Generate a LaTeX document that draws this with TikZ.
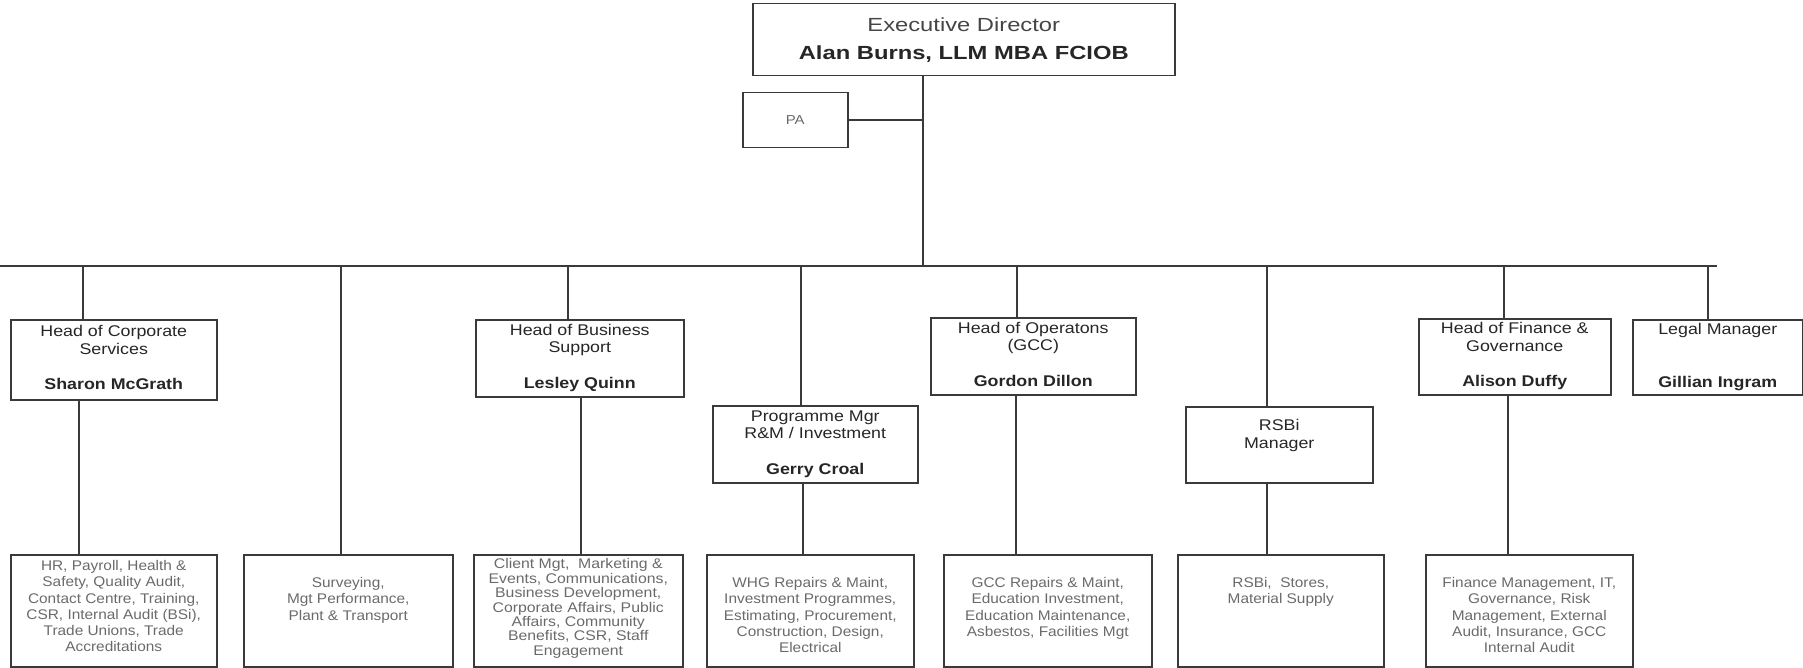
\documentclass[tikz,border=0pt]{standalone}
\usepackage{fontspec}
\setmainfont{Liberation Sans}
\usepackage{graphicx}
\definecolor{ln}{HTML}{3A3A3A}
\definecolor{tx}{HTML}{262626}
\definecolor{lt}{HTML}{6A6A6A}
\definecolor{ttl}{HTML}{454545}
\newcommand\hs[2]{\scalebox{#1}[1]{\begin{tabular}{@{}c@{}}#2\end{tabular}}}
\newcommand\topbox[4]{\begin{minipage}[c][#2][t]{#1}\vspace*{#3}\centering #4\end{minipage}}
\begin{document}
\begin{tikzpicture}[x=1pt,y=-1pt,
  box/.style={draw=ln, line width=1.5pt, inner sep=0pt, anchor=north west, text=tx},
  conn/.style={draw=ln, line width=1.5pt},
  headfont/.style={font=\fontsize{15.5}{17.7}\selectfont},
  subfont/.style={font=\fontsize{14}{16.2}\selectfont, text=lt}]
\useasboundingbox (0,0) rectangle (1803,668);

% top
\node[box, minimum width=422pt, minimum height=72pt, align=center,
      font=\fontsize{19}{28}\selectfont] (exec) at (752,3)
  {\scalebox{1.25}[1]{\textcolor{ttl}{Executive Director}}\\
   \scalebox{1.25}[1]{\bfseries Alan Burns, LLM MBA FCIOB}};
\node[box, minimum width=105pt, minimum height=55pt,
      font=\fontsize{13}{15}\selectfont, text=lt] (pa) at (742,92)
  {\scalebox{1.15}[1]{PA}};

% heads
\node[box, minimum width=206pt, minimum height=80pt, headfont] (corp) at (10,319)
  {\hs{1.15}{Head of Corporate\\Services\\ \\\textbf{Sharon McGrath}}};
\node[box, minimum width=208pt, minimum height=77pt, headfont] (bsup) at (475,319)
  {\hs{1.15}{Head of Business\\Support\\ \\\textbf{Lesley Quinn}}};
\node[box, minimum width=205pt, minimum height=77pt, headfont] (prog) at (712,405)
  {\hs{1.15}{Programme Mgr\\R\&M / Investment\\ \\\textbf{Gerry Croal}}};
\node[box, minimum width=205pt, minimum height=77pt, headfont] (ops) at (930,317)
  {\hs{1.15}{Head of Operatons\\(GCC)\\ \\\textbf{Gordon Dillon}}};
\node[box, minimum width=187pt, minimum height=76pt, headfont] (rsbi) at (1185,406)
  {\hs{1.15}{RSBi\\Manager\\ \\ }};
\node[box, minimum width=192pt, minimum height=76pt, headfont] (fin) at (1418,318)
  {\hs{1.15}{Head of Finance \&\\Governance\\ \\\textbf{Alison Duffy}}};
\node[box, minimum width=170pt, minimum height=75pt, headfont] (legal) at (1632,319)
  {\hs{1.15}{Legal Manager\\ \\ \\\textbf{Gillian Ingram}}};

% bottom boxes
\node[box, subfont] (b1) at (10,554)
  {\topbox{206pt}{112pt}{4.7pt}{\hs{1.1}{HR, Payroll, Health \&\\Safety, Quality Audit,\\Contact Centre, Training,\\CSR, Internal Audit (BSi),\\Trade Unions, Trade\\Accreditations}}};
\node[box, subfont] (b2) at (243,554)
  {\topbox{209pt}{112pt}{21.7pt}{\hs{1.1}{Surveying,\\Mgt Performance,\\Plant \& Transport}}};
\node[box, subfont] (b3) at (473,554)
  {\topbox{209pt}{112pt}{4pt}{\fontsize{14}{14.2}\selectfont\hs{1.13}{Client Mgt,\ \ Marketing \&\\Events, Communications,\\Business Development,\\Corporate Affairs, Public\\Affairs, Community\\Benefits, CSR, Staff\\Engagement}}};
\node[box, subfont] (b4) at (706,554)
  {\topbox{207pt}{112pt}{21.7pt}{\hs{1.1}{WHG Repairs \& Maint,\\Investment Programmes,\\Estimating, Procurement,\\Construction, Design,\\Electrical}}};
\node[box, subfont] (b5) at (943,554)
  {\topbox{208pt}{112pt}{21.7pt}{\hs{1.1}{GCC Repairs \& Maint,\\Education Investment,\\Education Maintenance,\\Asbestos, Facilities Mgt}}};
\node[box, subfont] (b6) at (1177,554)
  {\topbox{206pt}{112pt}{21.7pt}{\hs{1.1}{RSBi,\ \ Stores,\\Material Supply}}};
\node[box, subfont] (b7) at (1425,554)
  {\topbox{207pt}{112pt}{21.7pt}{\hs{1.1}{Finance Management, IT,\\Governance, Risk\\Management, External\\Audit, Insurance, GCC\\Internal Audit}}};

% bus and trunk
\coordinate (busL) at (0,266);
\coordinate (busR) at (1717,266);
\coordinate (trunk) at (923,266);
\draw[conn] (busL) -- (busR);
\draw[conn] (exec.south -| trunk) -- (trunk);
\draw[conn] (pa.east) -- (pa.east -| trunk);

% drops from bus
\coordinate (dcorp) at (83,266);
\coordinate (dsurv) at (341,266);
\coordinate (dbsup) at (568,266);
\coordinate (dprog) at (801,266);
\coordinate (dops) at (1017,266);
\coordinate (drsbi) at (1267,266);
\coordinate (dfin) at (1504,266);
\coordinate (dlegal) at (1708,266);
\draw[conn] (dcorp) -- (dcorp |- corp.north);
\draw[conn] (dsurv) -- (dsurv |- b2.north);
\draw[conn] (dbsup) -- (dbsup |- bsup.north);
\draw[conn] (dprog) -- (dprog |- prog.north);
\draw[conn] (dops) -- (dops |- ops.north);
\draw[conn] (drsbi) -- (drsbi |- rsbi.north);
\draw[conn] (dfin) -- (dfin |- fin.north);
\draw[conn] (dlegal) -- (dlegal |- legal.north);

% lower connectors
\coordinate (lcorp) at (79,0);
\coordinate (lbsup) at (581,0);
\coordinate (lprog) at (803,0);
\coordinate (lops) at (1016,0);
\coordinate (lrsbi) at (1267,0);
\coordinate (lfin) at (1508,0);
\draw[conn] (corp.south -| lcorp) -- (b1.north -| lcorp);
\draw[conn] (bsup.south -| lbsup) -- (b3.north -| lbsup);
\draw[conn] (prog.south -| lprog) -- (b4.north -| lprog);
\draw[conn] (ops.south -| lops) -- (b5.north -| lops);
\draw[conn] (rsbi.south -| lrsbi) -- (b6.north -| lrsbi);
\draw[conn] (fin.south -| lfin) -- (b7.north -| lfin);
\end{tikzpicture}
\end{document}
